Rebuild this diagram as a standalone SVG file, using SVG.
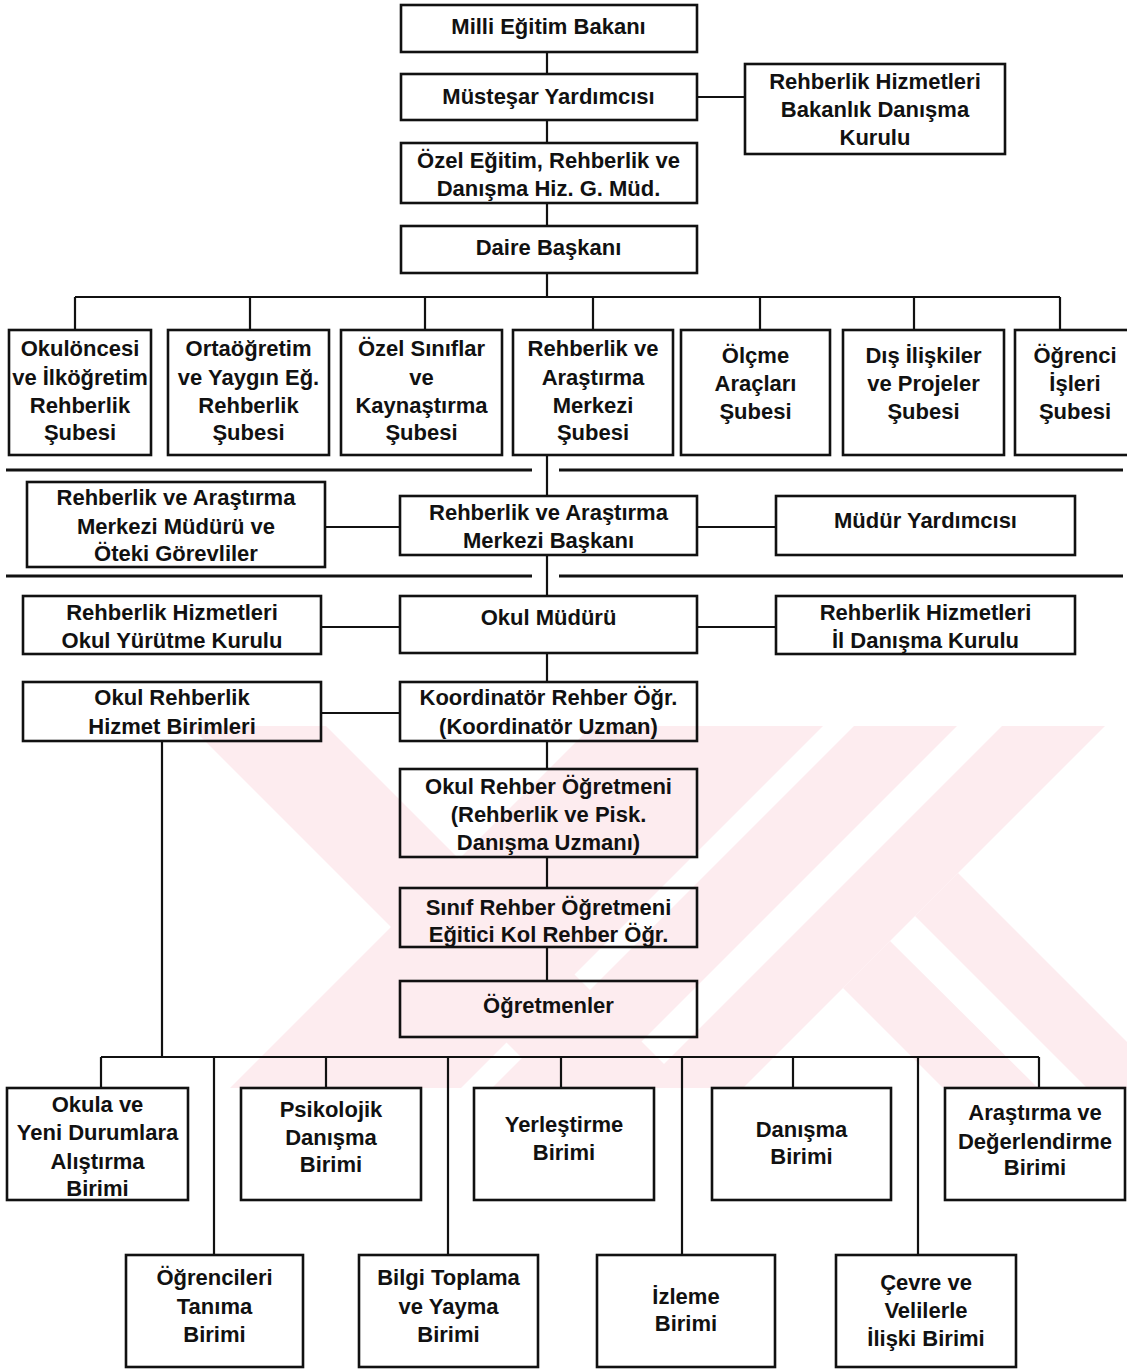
<svg xmlns="http://www.w3.org/2000/svg" width="1127" height="1369" viewBox="0 0 1127 1369">
<style>
.box{fill:none;stroke:#111;stroke-width:2.6}
.t{font-family:"Liberation Sans",Arial,sans-serif;font-weight:bold;font-size:22px;fill:#111;text-anchor:middle}
.c{stroke:#111;stroke-width:2.2;fill:none}
.sep{stroke:#111;stroke-width:3;fill:none}
.wm{fill:#fdecef}
</style>
<defs>
<clipPath id="wmclip"><rect x="175" y="726" width="952" height="362"/></clipPath>
</defs>
<rect width="1127" height="1369" fill="#fff"/>
<g id="watermark" clip-path="url(#wmclip)">
<polygon class="wm" points="190,726 326,726 690,1090 554,1090"/>
<polygon class="wm" points="592,726 823,726 459,1090 228,1090"/>
<polygon class="wm" points="854,726 957,726 593,1090 490,1090"/>
<polygon class="wm" points="1002,726 1105,726 741,1090 638,1090"/>
<polygon class="wm" points="958,873 915,916 1089,1090 1175,1090"/>
<polygon class="wm" points="890,941 843,988 945,1090 1040,1090"/>
</g>
<g id="connectors">
<path class="c" d="M547,52V74M697,97H745M547,120V143M547,203V226M547,273V297"/>
<path class="c" d="M75,297H1060M75,297V330M250,297V330M425,297V330M593,297V330M760,297V330M914,297V330M1060,297V330"/>
<path class="c" d="M547,455V496M325,527H400M697,527H776M547,555V596"/>
<path class="c" d="M321,627H400M697,627H776M547,653V682M321,713H400M547,741V769M547,857V888M547,947V981"/>
<path class="c" d="M162,741V1057M101,1057H1039"/>
<path class="c" d="M101,1057V1088M214,1057V1255M326,1057V1088M448,1057V1255M561,1057V1088M682,1057V1255M793,1057V1088M918,1057V1255M1039,1057V1088"/>
<path class="sep" d="M6,470H532M559,470H1123M6,576H532M559,576H1123"/>
</g>
<g id="n-bakan"><rect class="box" x="401" y="5" width="296" height="47"/><text class="t" x="548.5" y="34">Milli Eğitim Bakanı</text></g>
<g id="n-mustesar"><rect class="box" x="401" y="74" width="296" height="46"/><text class="t" x="548.5" y="104">Müsteşar Yardımcısı</text></g>
<g id="n-bdk"><rect class="box" x="745" y="64" width="260" height="90"/><text class="t" x="875" y="89">Rehberlik Hizmetleri</text><text class="t" x="875" y="117">Bakanlık Danışma</text><text class="t" x="875" y="145">Kurulu</text></g>
<g id="n-gmud"><rect class="box" x="401" y="143" width="296" height="60"/><text class="t" x="548.5" y="168">Özel Eğitim, Rehberlik ve</text><text class="t" x="548.5" y="196">Danışma Hiz. G. Müd.</text></g>
<g id="n-daire"><rect class="box" x="401" y="226" width="296" height="47"/><text class="t" x="548.5" y="255">Daire Başkanı</text></g>
<g id="n-s1"><rect class="box" x="9" y="330" width="142" height="125"/><text class="t" x="80" y="356">Okulöncesi</text><text class="t" x="80" y="385">ve İlköğretim</text><text class="t" x="80" y="413">Rehberlik</text><text class="t" x="80" y="440">Şubesi</text></g>
<g id="n-s2"><rect class="box" x="168" y="330" width="161" height="125"/><text class="t" x="248.5" y="356">Ortaöğretim</text><text class="t" x="248.5" y="385">ve Yaygın Eğ.</text><text class="t" x="248.5" y="413">Rehberlik</text><text class="t" x="248.5" y="440">Şubesi</text></g>
<g id="n-s3"><rect class="box" x="341" y="330" width="161" height="125"/><text class="t" x="421.5" y="356">Özel Sınıflar</text><text class="t" x="421.5" y="385">ve</text><text class="t" x="421.5" y="413">Kaynaştırma</text><text class="t" x="421.5" y="440">Şubesi</text></g>
<g id="n-s4"><rect class="box" x="513" y="330" width="160" height="125"/><text class="t" x="593" y="356">Rehberlik ve</text><text class="t" x="593" y="385">Araştırma</text><text class="t" x="593" y="413">Merkezi</text><text class="t" x="593" y="440">Şubesi</text></g>
<g id="n-s5"><rect class="box" x="681" y="330" width="149" height="125"/><text class="t" x="755.5" y="363">Ölçme</text><text class="t" x="755.5" y="391">Araçları</text><text class="t" x="755.5" y="419">Şubesi</text></g>
<g id="n-s6"><rect class="box" x="843" y="330" width="161" height="125"/><text class="t" x="923.5" y="363">Dış İlişkiler</text><text class="t" x="923.5" y="391">ve Projeler</text><text class="t" x="923.5" y="419">Şubesi</text></g>
<g id="n-s7"><rect class="box" x="1015" y="330" width="122" height="125"/><text class="t" x="1075" y="363">Öğrenci</text><text class="t" x="1075" y="391">İşleri</text><text class="t" x="1075" y="419">Şubesi</text></g>
<g id="n-rammud"><rect class="box" x="27" y="482" width="298" height="85"/><text class="t" x="176" y="505">Rehberlik ve Araştırma</text><text class="t" x="176" y="534">Merkezi Müdürü ve</text><text class="t" x="176" y="561">Öteki Görevliler</text></g>
<g id="n-rambas"><rect class="box" x="400" y="496" width="297" height="59"/><text class="t" x="548.5" y="520">Rehberlik ve Araştırma</text><text class="t" x="548.5" y="548">Merkezi Başkanı</text></g>
<g id="n-mudyar"><rect class="box" x="776" y="496" width="299" height="59"/><text class="t" x="925.5" y="528">Müdür Yardımcısı</text></g>
<g id="n-oyk"><rect class="box" x="23" y="596" width="298" height="58"/><text class="t" x="172" y="620">Rehberlik Hizmetleri</text><text class="t" x="172" y="648">Okul Yürütme Kurulu</text></g>
<g id="n-okulmud"><rect class="box" x="400" y="596" width="297" height="57"/><text class="t" x="548.5" y="625">Okul Müdürü</text></g>
<g id="n-idk"><rect class="box" x="776" y="596" width="299" height="58"/><text class="t" x="925.5" y="620">Rehberlik Hizmetleri</text><text class="t" x="925.5" y="648">İl Danışma Kurulu</text></g>
<g id="n-orhb"><rect class="box" x="23" y="682" width="298" height="59"/><text class="t" x="172" y="705">Okul Rehberlik</text><text class="t" x="172" y="734">Hizmet Birimleri</text></g>
<g id="n-koord"><rect class="box" x="400" y="682" width="297" height="59"/><text class="t" x="548.5" y="705">Koordinatör Rehber Öğr.</text><text class="t" x="548.5" y="734">(Koordinatör Uzman)</text></g>
<g id="n-oro"><rect class="box" x="400" y="769" width="297" height="88"/><text class="t" x="548.5" y="794">Okul Rehber Öğretmeni</text><text class="t" x="548.5" y="822">(Rehberlik ve Pisk.</text><text class="t" x="548.5" y="850">Danışma Uzmanı)</text></g>
<g id="n-sinif"><rect class="box" x="400" y="888" width="297" height="59"/><text class="t" x="548.5" y="915">Sınıf Rehber Öğretmeni</text><text class="t" x="548.5" y="942">Eğitici Kol Rehber Öğr.</text></g>
<g id="n-ogretmen"><rect class="box" x="400" y="981" width="297" height="56"/><text class="t" x="548.5" y="1013">Öğretmenler</text></g>
<g id="n-u1"><rect class="box" x="7" y="1088" width="181" height="112"/><text class="t" x="97.5" y="1112">Okula ve</text><text class="t" x="97.5" y="1140">Yeni Durumlara</text><text class="t" x="97.5" y="1169">Alıştırma</text><text class="t" x="97.5" y="1196">Birimi</text></g>
<g id="n-u2"><rect class="box" x="126" y="1255" width="177" height="112"/><text class="t" x="214.5" y="1285">Öğrencileri</text><text class="t" x="214.5" y="1314">Tanıma</text><text class="t" x="214.5" y="1342">Birimi</text></g>
<g id="n-u3"><rect class="box" x="241" y="1088" width="180" height="112"/><text class="t" x="331" y="1117">Psikolojik</text><text class="t" x="331" y="1145">Danışma</text><text class="t" x="331" y="1172">Birimi</text></g>
<g id="n-u4"><rect class="box" x="359" y="1255" width="179" height="112"/><text class="t" x="448.5" y="1285">Bilgi Toplama</text><text class="t" x="448.5" y="1314">ve Yayma</text><text class="t" x="448.5" y="1342">Birimi</text></g>
<g id="n-u5"><rect class="box" x="474" y="1088" width="180" height="112"/><text class="t" x="564" y="1132">Yerleştirme</text><text class="t" x="564" y="1160">Birimi</text></g>
<g id="n-u6"><rect class="box" x="597" y="1255" width="178" height="112"/><text class="t" x="686" y="1304">İzleme</text><text class="t" x="686" y="1331">Birimi</text></g>
<g id="n-u7"><rect class="box" x="712" y="1088" width="179" height="112"/><text class="t" x="801.5" y="1137">Danışma</text><text class="t" x="801.5" y="1164">Birimi</text></g>
<g id="n-u8"><rect class="box" x="836" y="1255" width="180" height="112"/><text class="t" x="926" y="1290">Çevre ve</text><text class="t" x="926" y="1318">Velilerle</text><text class="t" x="926" y="1346">İlişki Birimi</text></g>
<g id="n-u9"><rect class="box" x="945" y="1088" width="180" height="112"/><text class="t" x="1035" y="1120">Araştırma ve</text><text class="t" x="1035" y="1149">Değerlendirme</text><text class="t" x="1035" y="1175">Birimi</text></g>
</svg>
